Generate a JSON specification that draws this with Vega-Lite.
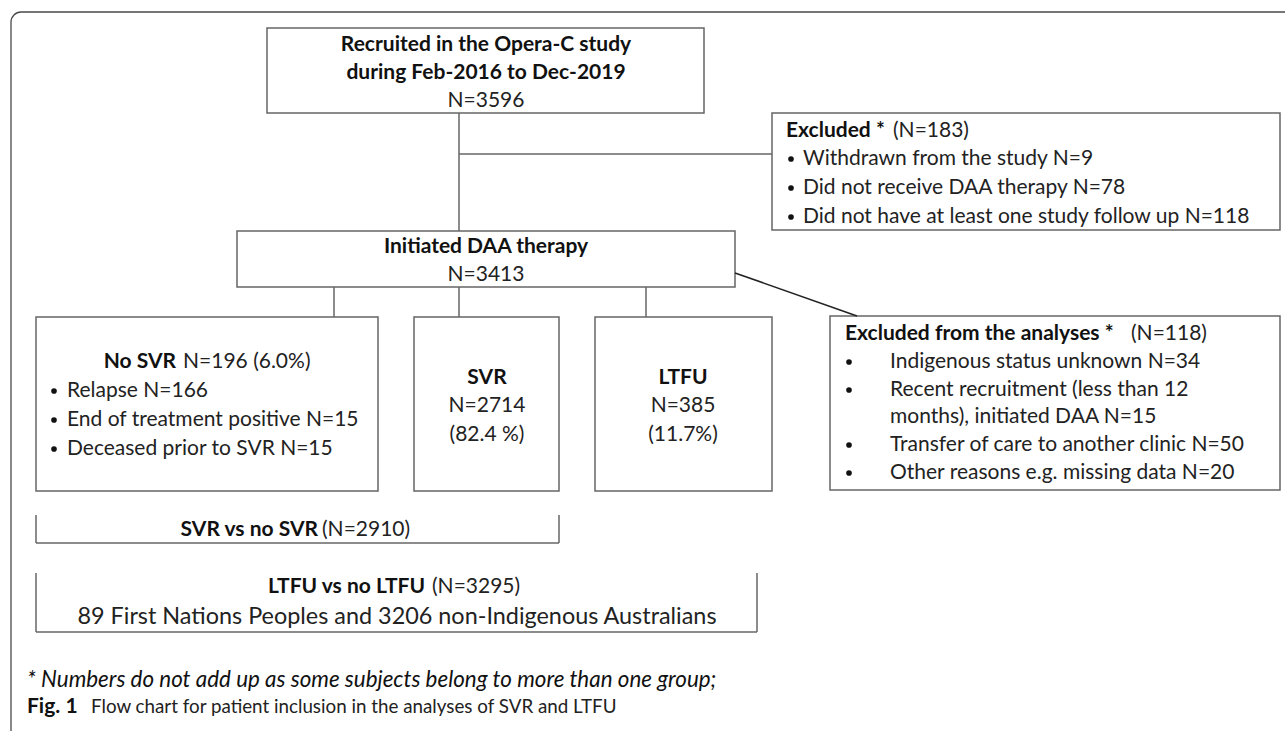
{
  "$schema": "https://vega.github.io/schema/vega-lite/v6.json",
  "width": 1285,
  "height": 731,
  "autosize": {"type": "fit", "contains": "padding"},
  "padding": 0,
  "background": "white",
  "config": {"view": {"stroke": null}},
  "datasets": {
    "frame": [{"x": 11, "x2": 1320, "y": 12, "y2": 760}],
    "boxes": [
      {"name": "recruited", "x": 267, "x2": 704, "y": 28, "y2": 113},
      {"name": "excluded", "x": 772, "x2": 1280, "y": 113, "y2": 230},
      {"name": "daa", "x": 237, "x2": 735, "y": 231, "y2": 287},
      {"name": "nosvr", "x": 36, "x2": 378, "y": 317, "y2": 491},
      {"name": "svr", "x": 414, "x2": 559, "y": 317, "y2": 491},
      {"name": "ltfu", "x": 595, "x2": 772, "y": 317, "y2": 491},
      {"name": "excludedAnalyses", "x": 830, "x2": 1280, "y": 316, "y2": 490}
    ],
    "lines": [
      {"kind": "connector", "x": 459, "y": 113, "x2": 459, "y2": 231},
      {"kind": "connector", "x": 459, "y": 154, "x2": 772, "y2": 154},
      {"kind": "connector", "x": 334, "y": 287, "x2": 334, "y2": 317},
      {"kind": "connector", "x": 459, "y": 287, "x2": 459, "y2": 317},
      {"kind": "connector", "x": 646, "y": 287, "x2": 646, "y2": 317},
      {"kind": "pointer", "x": 735, "y": 273, "x2": 857, "y2": 316},
      {"kind": "connector", "x": 36, "y": 515, "x2": 36, "y2": 543},
      {"kind": "connector", "x": 36, "y": 543, "x2": 559, "y2": 543},
      {"kind": "connector", "x": 559, "y": 515, "x2": 559, "y2": 543},
      {"kind": "connector", "x": 36, "y": 573, "x2": 36, "y2": 632},
      {"kind": "connector", "x": 36, "y": 632, "x2": 757, "y2": 632},
      {"kind": "connector", "x": 757, "y": 573, "x2": 757, "y2": 632}
    ],
    "bullets": [
      {"x": 791, "y": 159}, {"x": 791, "y": 188}, {"x": 791, "y": 217},
      {"x": 54, "y": 391}, {"x": 54, "y": 420}, {"x": 54, "y": 449},
      {"x": 849, "y": 362}, {"x": 849, "y": 390}, {"x": 849, "y": 445}, {"x": 849, "y": 473}
    ],
    "texts": [
      {"role": "boxTitle", "x": 486, "y": 45, "text": "Recruited in the Opera-C study"},
      {"role": "boxTitle", "x": 486, "y": 73, "text": "during Feb-2016 to Dec-2019"},
      {"role": "boxTitle", "x": 486, "y": 247, "text": "Initiated DAA therapy"},
      {"role": "boxTitle", "x": 487, "y": 378, "text": "SVR"},
      {"role": "boxTitle", "x": 683, "y": 378, "text": "LTFU"},
      {"role": "boxValue", "x": 486, "y": 101, "text": "N=3596"},
      {"role": "boxValue", "x": 486, "y": 275, "text": "N=3413"},
      {"role": "boxValue", "x": 487, "y": 406, "text": "N=2714"},
      {"role": "boxValue", "x": 487, "y": 435, "text": "(82.4 %)"},
      {"role": "boxValue", "x": 683, "y": 406, "text": "N=385"},
      {"role": "boxValue", "x": 683, "y": 435, "text": "(11.7%)"},
      {"role": "headBold", "x": 176, "y": 362, "text": "No SVR"},
      {"role": "headBold", "x": 318, "y": 530, "text": "SVR vs no SVR"},
      {"role": "headBold", "x": 425, "y": 587, "text": "LTFU vs no LTFU"},
      {"role": "headRest", "x": 183, "y": 362, "text": "N=196 (6.0%)"},
      {"role": "headRest", "x": 322, "y": 530, "text": "(N=2910)"},
      {"role": "headRest", "x": 432, "y": 587, "text": "(N=3295)"},
      {"role": "labelBold", "x": 786, "y": 131, "text": "Excluded *"},
      {"role": "labelBold", "x": 845, "y": 334, "text": "Excluded from the analyses *"},
      {"role": "labelRest", "x": 893, "y": 131, "text": "(N=183)"},
      {"role": "labelRest", "x": 1131, "y": 334, "text": "(N=118)"},
      {"role": "item", "x": 803, "y": 159, "text": "Withdrawn from the study N=9"},
      {"role": "item", "x": 803, "y": 188, "text": "Did not receive DAA therapy N=78"},
      {"role": "item", "x": 803, "y": 217, "text": "Did not have at least one study follow up  N=118"},
      {"role": "item", "x": 67, "y": 391, "text": "Relapse N=166"},
      {"role": "item", "x": 67, "y": 420, "text": "End of treatment positive N=15"},
      {"role": "item", "x": 67, "y": 449, "text": "Deceased prior to SVR N=15"},
      {"role": "item", "x": 890, "y": 362, "text": "Indigenous status unknown N=34"},
      {"role": "item", "x": 890, "y": 390, "text": "Recent recruitment (less than 12"},
      {"role": "item", "x": 890, "y": 417, "text": "months), initiated DAA N=15"},
      {"role": "item", "x": 890, "y": 445, "text": "Transfer of care to another clinic N=50"},
      {"role": "item", "x": 890, "y": 473, "text": "Other reasons e.g. missing data N=20"},
      {"role": "population", "x": 397, "y": 617, "text": "89 First Nations Peoples and 3206 non-Indigenous Australians"},
      {"role": "note", "x": 27, "y": 680, "text": "* Numbers do not add up as some subjects belong to more than one group;"},
      {"role": "figLabel", "x": 27, "y": 707, "text": "Fig. 1"},
      {"role": "figCaption", "x": 91, "y": 707, "text": "Flow chart for patient inclusion in the analyses of SVR and LTFU"}
    ]
  },
  "layer": [
    {
      "data": {"name": "frame"},
      "mark": {"type": "rect", "fill": null, "stroke": "#4a4a4a", "strokeWidth": 1.3, "cornerRadius": 10, "clip": true},
      "encoding": {
        "x": {"field": "x", "type": "quantitative", "axis": null, "scale": {"domain": [0, 1285], "nice": false, "zero": false}},
        "x2": {"field": "x2"},
        "y": {"field": "y", "type": "quantitative", "axis": null, "scale": {"domain": [0, 731], "nice": false, "zero": false, "reverse": true}},
        "y2": {"field": "y2"}
      }
    },
    {
      "data": {"name": "boxes"},
      "mark": {"type": "rect", "fill": "white", "stroke": "#666666", "strokeWidth": 1.5},
      "encoding": {
        "x": {"field": "x", "type": "quantitative", "axis": null},
        "x2": {"field": "x2"},
        "y": {"field": "y", "type": "quantitative", "axis": null},
        "y2": {"field": "y2"}
      }
    },
    {
      "data": {"name": "lines"},
      "transform": [{"filter": "datum.kind === 'connector'"}],
      "mark": {"type": "rule", "stroke": "#666666", "strokeWidth": 1.5},
      "encoding": {
        "x": {"field": "x", "type": "quantitative", "axis": null},
        "x2": {"field": "x2"},
        "y": {"field": "y", "type": "quantitative", "axis": null},
        "y2": {"field": "y2"}
      }
    },
    {
      "data": {"name": "lines"},
      "transform": [{"filter": "datum.kind === 'pointer'"}],
      "mark": {"type": "rule", "stroke": "#222222", "strokeWidth": 1.6},
      "encoding": {
        "x": {"field": "x", "type": "quantitative", "axis": null},
        "x2": {"field": "x2"},
        "y": {"field": "y", "type": "quantitative", "axis": null},
        "y2": {"field": "y2"}
      }
    },
    {
      "data": {"name": "bullets"},
      "mark": {"type": "point", "shape": "circle", "filled": true, "size": 32, "color": "#111111", "opacity": 1},
      "encoding": {
        "x": {"field": "x", "type": "quantitative", "axis": null},
        "y": {"field": "y", "type": "quantitative", "axis": null}
      }
    },
    {
      "data": {"name": "texts"},
      "transform": [{"filter": "datum.role === 'boxTitle'"}],
      "mark": {"type": "text", "font": "Lato", "fontWeight": "bold", "fontSize": 21, "align": "center", "baseline": "middle", "color": "#111111"},
      "encoding": {
        "x": {"field": "x", "type": "quantitative", "axis": null},
        "y": {"field": "y", "type": "quantitative", "axis": null},
        "text": {"field": "text"}
      }
    },
    {
      "data": {"name": "texts"},
      "transform": [{"filter": "datum.role === 'boxValue'"}],
      "mark": {"type": "text", "font": "Lato", "fontSize": 21, "align": "center", "baseline": "middle", "color": "#222222"},
      "encoding": {
        "x": {"field": "x", "type": "quantitative", "axis": null},
        "y": {"field": "y", "type": "quantitative", "axis": null},
        "text": {"field": "text"}
      }
    },
    {
      "data": {"name": "texts"},
      "transform": [{"filter": "datum.role === 'headBold'"}],
      "mark": {"type": "text", "font": "Lato", "fontWeight": "bold", "fontSize": 21, "align": "right", "baseline": "middle", "color": "#111111"},
      "encoding": {
        "x": {"field": "x", "type": "quantitative", "axis": null},
        "y": {"field": "y", "type": "quantitative", "axis": null},
        "text": {"field": "text"}
      }
    },
    {
      "data": {"name": "texts"},
      "transform": [{"filter": "datum.role === 'headRest' || datum.role === 'labelRest' || datum.role === 'item'"}],
      "mark": {"type": "text", "font": "Lato", "fontSize": 21, "align": "left", "baseline": "middle", "color": "#222222"},
      "encoding": {
        "x": {"field": "x", "type": "quantitative", "axis": null},
        "y": {"field": "y", "type": "quantitative", "axis": null},
        "text": {"field": "text"}
      }
    },
    {
      "data": {"name": "texts"},
      "transform": [{"filter": "datum.role === 'labelBold'"}],
      "mark": {"type": "text", "font": "Lato", "fontWeight": "bold", "fontSize": 21, "align": "left", "baseline": "middle", "color": "#111111"},
      "encoding": {
        "x": {"field": "x", "type": "quantitative", "axis": null},
        "y": {"field": "y", "type": "quantitative", "axis": null},
        "text": {"field": "text"}
      }
    },
    {
      "data": {"name": "texts"},
      "transform": [{"filter": "datum.role === 'population'"}],
      "mark": {"type": "text", "font": "Lato", "fontSize": 23.4, "align": "center", "baseline": "middle", "color": "#222222"},
      "encoding": {
        "x": {"field": "x", "type": "quantitative", "axis": null},
        "y": {"field": "y", "type": "quantitative", "axis": null},
        "text": {"field": "text"}
      }
    },
    {
      "data": {"name": "texts"},
      "transform": [{"filter": "datum.role === 'note'"}],
      "mark": {"type": "text", "font": "Lato", "fontStyle": "italic", "fontSize": 22.4, "align": "left", "baseline": "middle", "color": "#111111"},
      "encoding": {
        "x": {"field": "x", "type": "quantitative", "axis": null},
        "y": {"field": "y", "type": "quantitative", "axis": null},
        "text": {"field": "text"}
      }
    },
    {
      "data": {"name": "texts"},
      "transform": [{"filter": "datum.role === 'figLabel'"}],
      "mark": {"type": "text", "font": "Lato", "fontWeight": "bold", "fontSize": 21, "align": "left", "baseline": "middle", "color": "#111111"},
      "encoding": {
        "x": {"field": "x", "type": "quantitative", "axis": null},
        "y": {"field": "y", "type": "quantitative", "axis": null},
        "text": {"field": "text"}
      }
    },
    {
      "data": {"name": "texts"},
      "transform": [{"filter": "datum.role === 'figCaption'"}],
      "mark": {"type": "text", "font": "Lato", "fontSize": 18.8, "align": "left", "baseline": "middle", "color": "#222222"},
      "encoding": {
        "x": {"field": "x", "type": "quantitative", "axis": null},
        "y": {"field": "y", "type": "quantitative", "axis": null},
        "text": {"field": "text"}
      }
    }
  ]
}
